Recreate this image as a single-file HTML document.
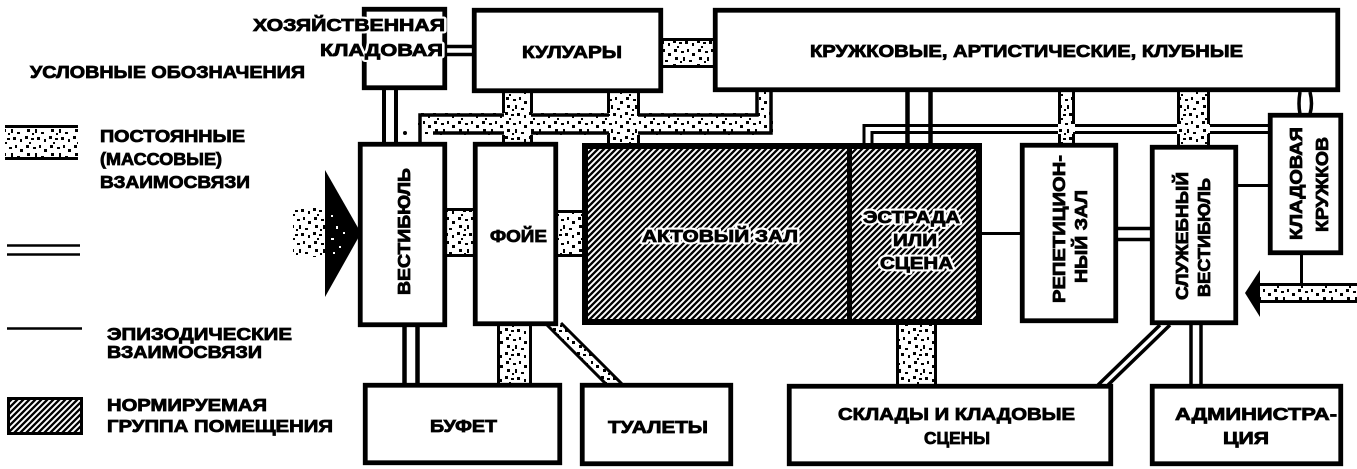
<!DOCTYPE html>
<html><head><meta charset="utf-8">
<style>
html,body{margin:0;padding:0;background:#fff}
svg{display:block}
.t{font-family:"Liberation Sans","DejaVu Sans",sans-serif;font-weight:bold;font-size:17.5px;fill:#000;stroke:#000;stroke-width:0.8}
.w{font-family:"Liberation Sans","DejaVu Sans",sans-serif;font-weight:bold;font-size:17.5px;fill:#fff;stroke:#fff;stroke-width:5;stroke-linejoin:round}
.b{fill:#fff;stroke:#000;stroke-width:4.8}
.l{stroke:#000;fill:none}
</style></head>
<body>
<svg width="1357" height="469" viewBox="0 0 1357 469" xmlns="http://www.w3.org/2000/svg">
<defs>
<pattern id="d" width="24" height="24" patternUnits="userSpaceOnUse"><rect width="24" height="24" fill="#fff"/><path d="M2 1h3v3h-3zM9 3h3v2h-3zM15 1h2v3h-2zM20 5h3v3h-3zM3 9h3v3h-3zM11 9h2v4h-2zM17 12h3v2h-3zM1 16h3v3h-3zM7 18h3v2h-3zM13 17h3v3h-3zM20 19h2v3h-2zM8 13h2v2h-2zM5 22h2v2h-2z" fill="#000"/></pattern>
<pattern id="h" width="6" height="6" patternUnits="userSpaceOnUse"><rect width="6" height="6" fill="#000"/><path d="M0 6L6 0M-1 1L1 -1M5 7L7 5" stroke="#fff" stroke-width="1.9"/></pattern>
</defs>

<!-- ===== Legend ===== -->
<rect x="5" y="125" width="73" height="35" fill="url(#d)"/>
<path class="l" stroke-width="3" d="M5 126.5H78M5 158.5H78"/>
<path class="l" stroke-width="2.5" d="M7 245.5H80M7 254.5H80"/>
<path class="l" stroke-width="2.5" d="M7 328.5H82"/>
<rect x="8.5" y="398.5" width="73" height="35" fill="url(#h)" stroke="#000" stroke-width="3"/>

<text class="t" x="30" y="78" textLength="275" lengthAdjust="spacingAndGlyphs">УСЛОВНЫЕ ОБОЗНАЧЕНИЯ</text>
<text class="t" x="100" y="142" font-size="16.5" textLength="145" lengthAdjust="spacingAndGlyphs">ПОСТОЯННЫЕ</text>
<text class="t" x="100" y="165" font-size="16.5" textLength="122" lengthAdjust="spacingAndGlyphs">(МАССОВЫЕ)</text>
<text class="t" x="100" y="188" font-size="16.5" textLength="150" lengthAdjust="spacingAndGlyphs">ВЗАИМОСВЯЗИ</text>
<text class="t" x="107" y="340" font-size="16.5" textLength="185" lengthAdjust="spacingAndGlyphs">ЭПИЗОДИЧЕСКИЕ</text>
<text class="t" x="107" y="358" font-size="16.5" textLength="155" lengthAdjust="spacingAndGlyphs">ВЗАИМОСВЯЗИ</text>
<text class="t" x="107" y="411" font-size="16.5" textLength="160" lengthAdjust="spacingAndGlyphs">НОРМИРУЕМАЯ</text>
<text class="t" x="107" y="432" font-size="16.5" textLength="226" lengthAdjust="spacingAndGlyphs">ГРУППА ПОМЕЩЕНИЯ</text>

<!-- ===== Connectors ===== -->
<path class="l" stroke-width="3.5" d="M447 46.5H473M447 54.5H473"/>
<rect x="663" y="38" width="50" height="30" fill="url(#d)"/>
<path class="l" stroke-width="3" d="M663 39.5H713M663 66.5H713"/>
<path class="l" stroke-width="4" d="M384 90V143M396 90V143"/>
<circle cx="405" cy="133" r="2" fill="#000"/>
<rect x="418" y="113" width="355" height="22" fill="url(#d)"/>
<rect x="757" y="92" width="14" height="22" fill="url(#d)"/>
<path class="l" stroke-width="3.5" d="M420 143V115H757V92M433 133H771V92"/>
<rect x="504" y="93" width="27" height="50" fill="url(#d)"/>
<path class="l" stroke-width="3" d="M503.5 93V113M531.5 93V113M503.5 135V143M531.5 135V143"/>
<rect x="609" y="93" width="29" height="51" fill="url(#d)"/>
<path class="l" stroke-width="3" d="M608.5 93V113M638.5 93V113M608.5 135V144M638.5 135V144"/>
<rect x="447" y="208" width="26" height="49" fill="url(#d)"/>
<path class="l" stroke-width="3" d="M447 209.5H473M447 255.5H473"/>
<rect x="558" y="210" width="24" height="47" fill="url(#d)"/>
<path class="l" stroke-width="3" d="M558 211.5H582M558 255.5H582"/>
<rect x="293" y="207" width="36" height="50" fill="url(#d)"/>
<polygon points="325,170 361,233 325,297" fill="#000"/>
<path d="M331 215h2v2h-2zM336 226h2v3h-2zM331 238h3v2h-3zM339 246h2v2h-2zM333 252h2v2h-2zM343 232h2v2h-2z" fill="#fff"/>
<path class="l" stroke-width="4.5" d="M907.5 92V144M930.5 92V144"/>
<path class="l" stroke-width="3" d="M864 144V125.5H1268M872 144V132.5H1268"/>
<rect x="1058" y="92" width="17" height="52" fill="url(#d)"/>
<path class="l" stroke-width="3" d="M1059.5 92V124M1073.5 92V124M1059.5 134V144M1073.5 134V144"/>
<rect x="1177" y="92" width="33" height="54" fill="url(#d)"/>
<path class="l" stroke-width="3" d="M1178.5 92V124M1208.5 92V124M1178.5 134V146M1208.5 134V146"/>
<path class="l" stroke-width="3.5" d="M1300 92Q1298 104 1300 114M1310 92Q1313 104 1310 114"/>
<path class="l" stroke-width="3" d="M982 233.5H1021"/>
<path class="l" stroke-width="3.5" d="M1118 228.5H1151M1118 239.5H1151"/>
<path class="l" stroke-width="3" d="M1238 185.5H1269"/>
<path class="l" stroke-width="3" d="M1301.5 255V284"/>
<rect x="1258" y="283" width="99" height="20" fill="url(#d)"/>
<path class="l" stroke-width="3" d="M1258 284.5H1357M1258 301.5H1357"/>
<polygon points="1245,293 1260,270 1260,317" fill="#000"/>
<path class="l" stroke-width="4.5" d="M404.5 326V384M417.5 326V384"/>
<rect x="497" y="325" width="35" height="59" fill="url(#d)"/>
<path class="l" stroke-width="3" d="M498.5 325V384M530.5 325V384"/>
<polygon points="547,325 563,325 622,384 606,384" fill="url(#d)"/>
<path class="l" stroke-width="3" d="M547 325L606 384M561 323L622 384"/>
<rect x="896" y="324" width="41" height="61" fill="url(#d)"/>
<path class="l" stroke-width="3" d="M897.5 324V385M935.5 324V385"/>
<path class="l" stroke-width="3.5" d="M1160 325L1098 385M1170 325L1108 385"/>
<path class="l" stroke-width="3.5" d="M1191 325V385M1201 325V385"/>

<!-- ===== Boxes ===== -->
<rect class="b" x="364.25" y="9.25" width="80.5" height="78.5"/>
<rect class="b" x="474.25" y="10.25" width="186.5" height="80.5"/>
<rect class="b" x="715.25" y="10.25" width="622.5" height="79.5"/>
<rect class="b" x="360.25" y="144.25" width="84.5" height="180.5"/>
<rect class="b" x="475.25" y="144.25" width="80.5" height="179.5"/>
<rect x="585" y="146" width="394" height="176" fill="url(#h)" stroke="#000" stroke-width="6"/>
<path class="l" stroke-width="5" d="M849.5 143V325"/>
<rect class="b" x="1022.25" y="145.25" width="93.5" height="175.5"/>
<rect class="b" x="1152.25" y="147.25" width="83.5" height="175.5"/>
<rect class="b" x="1270.25" y="115.25" width="70.5" height="137.5"/>
<rect class="b" x="365.25" y="385.25" width="194.5" height="77.5"/>
<rect class="b" x="582.25" y="385.25" width="148.5" height="78.5"/>
<rect class="b" x="789.25" y="386.25" width="321.5" height="77.5"/>
<rect class="b" x="1152.25" y="386.25" width="188.5" height="77.5"/>

<!-- ===== Labels ===== -->
<text class="w" x="253" y="31" stroke-width="3" textLength="192" lengthAdjust="spacingAndGlyphs">ХОЗЯЙСТВЕННАЯ</text>
<text class="t" x="253" y="31" textLength="192" lengthAdjust="spacingAndGlyphs">ХОЗЯЙСТВЕННАЯ</text>
<text class="w" x="320" y="56" stroke-width="3" textLength="123" lengthAdjust="spacingAndGlyphs">КЛАДОВАЯ</text>
<text class="t" x="320" y="56" textLength="123" lengthAdjust="spacingAndGlyphs">КЛАДОВАЯ</text>
<text class="t" x="522" y="58" textLength="100" lengthAdjust="spacingAndGlyphs">КУЛУАРЫ</text>
<text class="t" x="810" y="57" textLength="433" lengthAdjust="spacingAndGlyphs">КРУЖКОВЫЕ, АРТИСТИЧЕСКИЕ, КЛУБНЫЕ</text>
<text class="t" x="490" y="242" textLength="57" lengthAdjust="spacingAndGlyphs">ФОЙЕ</text>
<text class="t" transform="translate(410,295) rotate(-90)" font-size="19.5" textLength="127" lengthAdjust="spacingAndGlyphs">ВЕСТИБЮЛЬ</text>

<text class="w" x="642" y="242" textLength="156" lengthAdjust="spacingAndGlyphs">АКТОВЫЙ ЗАЛ</text>
<text class="t" x="642" y="242" textLength="156" lengthAdjust="spacingAndGlyphs">АКТОВЫЙ ЗАЛ</text>
<text class="w" x="863" y="223" textLength="97" lengthAdjust="spacingAndGlyphs">ЭСТРАДА</text>
<text class="t" x="863" y="223" textLength="97" lengthAdjust="spacingAndGlyphs">ЭСТРАДА</text>
<text class="w" x="893" y="246" textLength="44" lengthAdjust="spacingAndGlyphs">ИЛИ</text>
<text class="t" x="893" y="246" textLength="44" lengthAdjust="spacingAndGlyphs">ИЛИ</text>
<text class="w" x="880" y="269" textLength="73" lengthAdjust="spacingAndGlyphs">СЦЕНА</text>
<text class="t" x="880" y="269" textLength="73" lengthAdjust="spacingAndGlyphs">СЦЕНА</text>

<text class="t" transform="translate(1065,303) rotate(-90)" font-size="18" textLength="148" lengthAdjust="spacingAndGlyphs">РЕПЕТИЦИОН-</text>
<text class="t" transform="translate(1087,283) rotate(-90)" font-size="18" textLength="93" lengthAdjust="spacingAndGlyphs">НЫЙ ЗАЛ</text>
<text class="t" transform="translate(1188,300) rotate(-90)" font-size="18" textLength="128" lengthAdjust="spacingAndGlyphs">СЛУЖЕБНЫЙ</text>
<text class="t" transform="translate(1210,297) rotate(-90)" font-size="18" textLength="119" lengthAdjust="spacingAndGlyphs">ВЕСТИБЮЛЬ</text>
<text class="t" transform="translate(1302,240) rotate(-90)" font-size="19" textLength="113" lengthAdjust="spacingAndGlyphs">КЛАДОВАЯ</text>
<text class="t" transform="translate(1328,232) rotate(-90)" font-size="19" textLength="95" lengthAdjust="spacingAndGlyphs">КРУЖКОВ</text>

<text class="t" x="430" y="432" textLength="67" lengthAdjust="spacingAndGlyphs">БУФЕТ</text>
<text class="t" x="608" y="433" textLength="100" lengthAdjust="spacingAndGlyphs">ТУАЛЕТЫ</text>
<text class="t" x="838" y="420" textLength="237" lengthAdjust="spacingAndGlyphs">СКЛАДЫ И КЛАДОВЫЕ</text>
<text class="t" x="924" y="444" textLength="66" lengthAdjust="spacingAndGlyphs">СЦЕНЫ</text>
<text class="t" x="1175" y="420" textLength="162" lengthAdjust="spacingAndGlyphs">АДМИНИСТРА-</text>
<text class="t" x="1223" y="444" textLength="46" lengthAdjust="spacingAndGlyphs">ЦИЯ</text>
</svg>
</body></html>
